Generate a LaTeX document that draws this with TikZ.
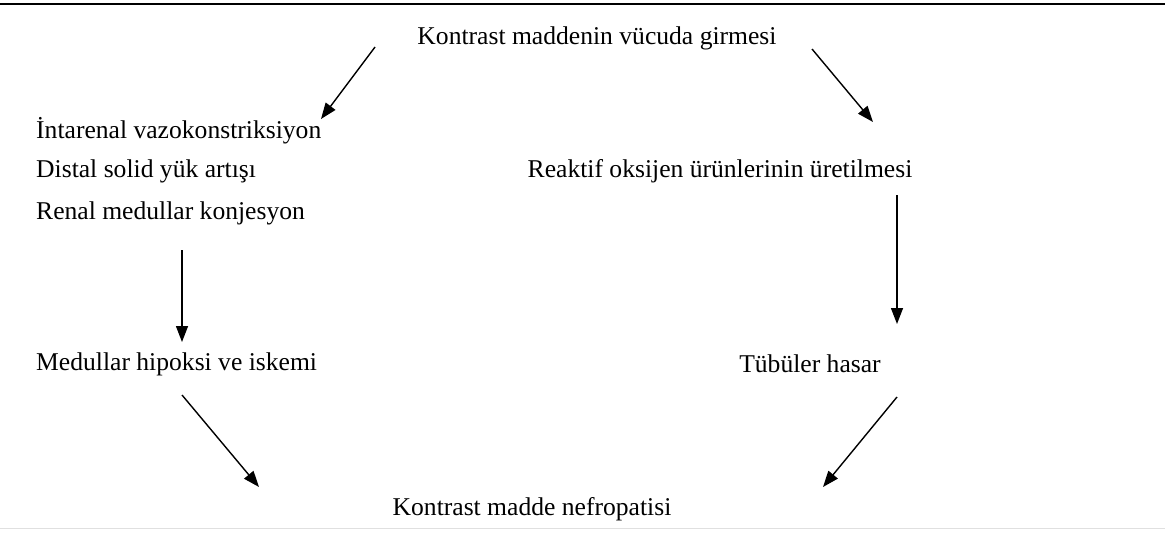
\documentclass[tikz,border=0pt]{standalone}
\usepackage{fontspec}
\setmainfont{Liberation Serif}
\usetikzlibrary{arrows.meta}
\begin{document}
\begin{tikzpicture}[x=1pt,y=-1pt,
  txt/.style={inner sep=0pt,font=\fontsize{25.6}{30}\selectfont},
  arr/.style={line width=1.4pt,-{Triangle[length=16pt,width=12pt]}}]
\useasboundingbox (0,0) rectangle (1165,533);
\draw[line width=2pt] (0,4) -- (1165,4);
\draw[line width=1pt,black!12] (0,528) -- (1165,528);
\node[txt] (top) at (597,38) {Kontrast maddenin vücuda girmesi};
\node[txt,anchor=west] (intra) at (36,131) {İntarenal vazokonstriksiyon};
\node[txt,anchor=west] (distal) at (36,171) {Distal solid yük artışı};
\node[txt,anchor=west] (renal) at (36,213) {Renal medullar konjesyon};
\node[txt] (reak) at (720,171) {Reaktif oksijen ürünlerinin üretilmesi};
\node[txt,anchor=west] (med) at (36,364) {Medullar hipoksi ve iskemi};
\node[txt] (tub) at (810,364) {Tübüler hasar};
\node[txt] (kmn) at (532,509) {Kontrast madde nefropatisi};
\coordinate (a1s) at (375,47);  \coordinate (a1e) at (321,119);
\coordinate (a2s) at (812,49);  \coordinate (a2e) at (873,122);
\coordinate (a3s) at (182,250); \coordinate (a3e) at (182,342);
\coordinate (a4s) at (897,195); \coordinate (a4e) at (897,324);
\coordinate (a5s) at (182,395); \coordinate (a5e) at (259,487);
\coordinate (a6s) at (897,397); \coordinate (a6e) at (823,487);
\draw[arr] (a1s) -- (a1e);
\draw[arr] (a2s) -- (a2e);
\draw[arr] (a3s) -- (a3e);
\draw[arr] (a4s) -- (a4e);
\draw[arr] (a5s) -- (a5e);
\draw[arr] (a6s) -- (a6e);
\end{tikzpicture}
\end{document}
